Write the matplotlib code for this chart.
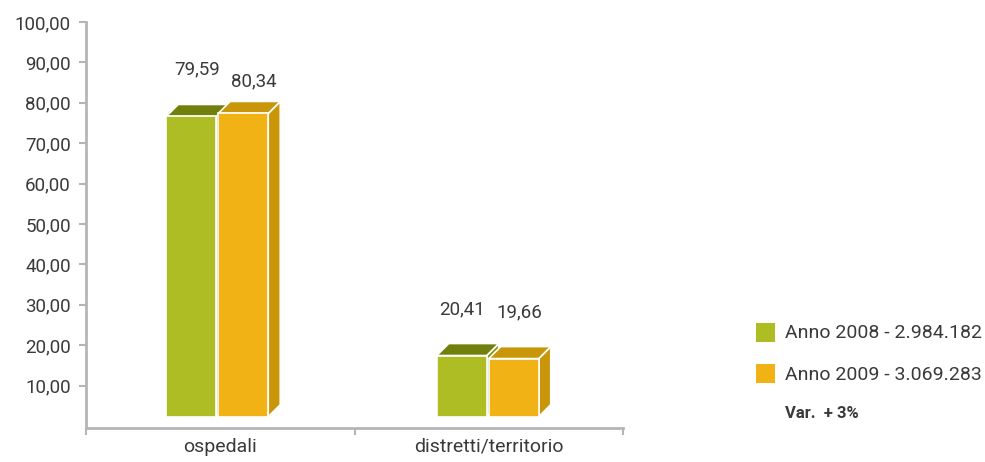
import matplotlib
matplotlib.use("Agg")
import matplotlib.pyplot as plt
from matplotlib.patches import Polygon, Rectangle

plt.rcParams['font.family'] = ['Roboto', 'DejaVu Sans']

# --- data ---
categories = ["ospedali", "distretti/territorio"]
series_names = ["Anno 2008 - 2.984.182", "Anno 2009 - 3.069.283"]
values_2008 = [79.59, 20.41]
values_2009 = [80.34, 19.66]
y_ticks = [10, 20, 30, 40, 50, 60, 70, 80, 90, 100]
note = "Var.  + 3%"

# --- style ---
front_colors = ["#AEBD23", "#F0B214"]
top_colors = ["#717F0D", "#C99509"]
side_colors = ["#85950F", "#C99509"]
text_color = "#3A3A3A"
axis_color = "#B5B5B8"
# label offsets above bar tops (pixels), indexed [series][category]
label_dy = [[26, 25], [11, 25]]
label_dx = [[0, -6], [5, 0]]

fig = plt.figure(figsize=(9.85, 4.62), dpi=100)
ax = fig.add_axes([86 / 985, 34 / 462, 537 / 985, 406 / 462])
ax.set_xlim(-0.5, 1.5)
ax.set_ylim(-0.5, 100)

# pixel -> data conversions for the pseudo-3D depth
px_x = 2.0 / 537
px_y = 100.5 / 406
depth_x = 12 * px_x
depth_y = 12 * px_y
floor = 2.3
bar_w = 50 * px_x
gap = 1 * px_x
shift = [-3 * px_x, -1 * px_x]


def bar_left(i, k):
    return i - bar_w - gap + k * (bar_w + 2 * gap) + shift[i]


def draw_bar(x0, value, k):
    w = bar_w
    front_top = value - depth_y
    side = Polygon([(x0 + w, floor), (x0 + w + depth_x, floor + depth_y),
                    (x0 + w + depth_x, value), (x0 + w, front_top)],
                   closed=True, facecolor=side_colors[k], edgecolor="white",
                   linewidth=1.2, zorder=3)
    top = Polygon([(x0, front_top), (x0 + w, front_top),
                   (x0 + w + depth_x, value), (x0 + depth_x, value)],
                  closed=True, facecolor=top_colors[k], edgecolor="white",
                  linewidth=1.2, zorder=3)
    front = Rectangle((x0, floor), w, front_top - floor,
                      facecolor=front_colors[k], edgecolor="white",
                      linewidth=1.2, zorder=3)
    for p in (side, top, front):
        ax.add_patch(p)


series = [values_2008, values_2009]
for i in range(len(categories)):
    for k, vals in enumerate(series):
        draw_bar(bar_left(i, k), vals[i], k)

for k, vals in enumerate(series):
    for i in range(len(categories)):
        x0 = bar_left(i, k)
        ax.annotate(f"{vals[i]:.2f}".replace(".", ","),
                    xy=(x0 + bar_w / 2 + depth_x / 2, vals[i]),
                    xytext=(label_dx[k][i] * 0.72, label_dy[k][i] * 0.72),
                    textcoords="offset points", ha="center", va="bottom",
                    fontsize=13.5, color=text_color)

# axes styling
for s in ("top", "right"):
    ax.spines[s].set_visible(False)
for s in ("left", "bottom"):
    ax.spines[s].set_color(axis_color)
    ax.spines[s].set_linewidth(2)

ax.set_yticks(y_ticks)
ax.set_yticklabels([f"{t:.2f}".replace(".", ",") for t in y_ticks])
ax.tick_params(axis="y", direction="out", length=5, width=1.5,
               color=axis_color, labelcolor=text_color, labelsize=13.5, pad=6)

ax.set_xticks([-0.5, 0.5, 1.5])
ax.set_xticklabels([])
ax.tick_params(axis="x", which="major", direction="out", length=5, width=1.5,
               color=axis_color)
ax.set_xticks([0, 1], minor=True)
ax.set_xticklabels(categories, minor=True)
ax.tick_params(axis="x", which="minor", length=0, labelsize=14,
               labelcolor=text_color, pad=7)

# legend
leg_x = 756 / 985
leg_y = [(462 - 342) / 462, (462 - 383) / 462]
sq_w, sq_h = 19 / 985, 19 / 462
for k, name in enumerate(series_names):
    fig.patches.append(Rectangle((leg_x, leg_y[k]), sq_w, sq_h,
                                 transform=fig.transFigure,
                                 facecolor=front_colors[k], edgecolor="none"))
    fig.text(785 / 985, leg_y[k] + sq_h / 2 - 1 / 462, name, ha="left",
             va="center", fontsize=14, color=text_color)
fig.text(785 / 985, (462 - 414) / 462, note, ha="left", va="center",
         fontsize=12, fontweight="bold", color=text_color)

fig.savefig("out.png", dpi=100, facecolor="white")
